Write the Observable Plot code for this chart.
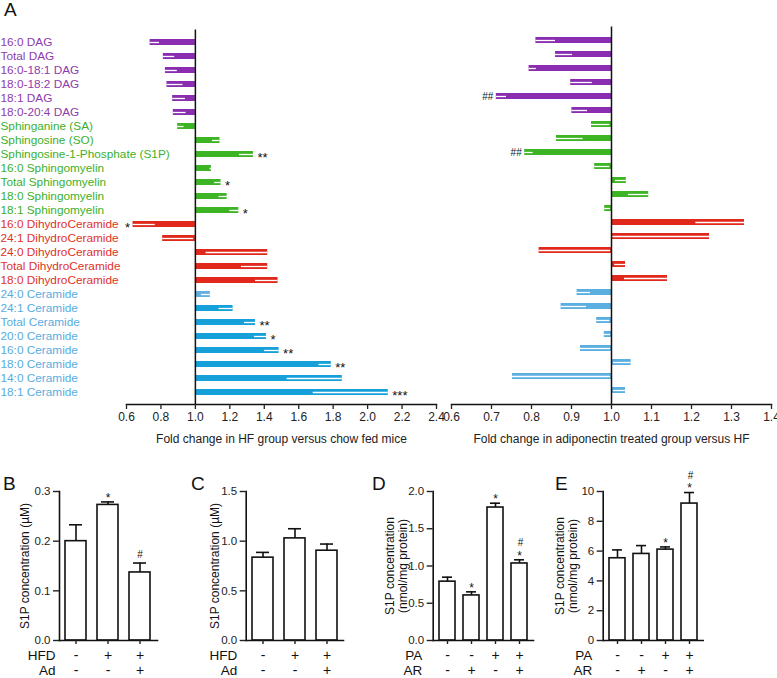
<!DOCTYPE html>
<html><head><meta charset="utf-8">
<script src="https://cdn.jsdelivr.net/npm/d3@7"></script>
<script src="https://cdn.jsdelivr.net/npm/@observablehq/plot@0.6"></script>
<style>
body{margin:0;background:#fff;}
#root{position:relative;width:777px;height:678px;overflow:hidden;font-family:"Liberation Sans",Arial,Helvetica,sans-serif;}
#root svg{position:absolute;overflow:visible;}
.letter{position:absolute;font-size:19px;line-height:19px;color:#111;}
</style></head><body><div id="root"></div>
<script>
// ---------- Panel A data ----------
const lipidNames = ["16:0 DAG","Total DAG","16:0-18:1 DAG","18:0-18:2 DAG","18:1 DAG","18:0-20:4 DAG",
  "Sphinganine (SA)","Sphingosine (SO)","Sphingosine-1-Phosphate (S1P)","16:0 Sphingomyelin","Total Sphingomyelin","18:0 Sphingomyelin","18:1 Sphingomyelin",
  "16:0 DihydroCeramide","24:1 DihydroCeramide","24:0 DihydroCeramide","Total DihydroCeramide","18:0 DihydroCeramide",
  "24:0 Ceramide","24:1 Ceramide","Total Ceramide","20:0 Ceramide","16:0 Ceramide","18:0 Ceramide","14:0 Ceramide","18:1 Ceramide"];
const lipidClass = ["DAG","DAG","DAG","DAG","DAG","DAG","Sph","Sph","Sph","Sph","Sph","Sph","Sph","DHC","DHC","DHC","DHC","DHC","Cer","Cer","Cer","Cer","Cer","Cer","Cer","Cer"];
const hfFold = [0.737,0.814,0.826,0.835,0.868,0.872,0.897,1.143,1.337,1.093,1.149,1.184,1.252,0.638,0.810,1.420,1.420,1.480,1.087,1.219,1.349,1.413,1.486,1.789,1.853,2.120];
const hfErr  = [0.055,0.066,0.069,0.093,0.074,0.074,0.037,0.044,0.081,0.008,0.037,0.047,0.052,0.129,0.180,0.358,0.153,0.131,0.052,0.082,0.064,0.070,0.085,0.072,0.320,0.436];
const hfSig  = ["","","","","","","","","**","","*","","*","*","","","","","","","**","*","**","**","","***"];
const adFold = [0.811,0.860,0.794,0.898,0.712,0.901,0.950,0.8625,0.783,0.958,1.037,1.093,0.983,1.3325,1.245,0.819,1.035,1.140,0.914,0.874,0.963,0.982,0.9225,1.049,0.7525,1.035];
const adErr  = [0.049,0.0425,0.018,0.054,0.0255,0.039,0.046,0.0665,0.021,0.038,0.027,0.0505,0.015,0.1215,0.242,0.179,0.027,0.1075,0.0335,0.0635,0.033,0.016,0.0755,0.044,0.2455,0.030];
const adSig  = ["","","","","##","","","","##","","","","","","","","","","","","","","","","",""];
const hfTicks = [0.6,0.8,1.0,1.2,1.4,1.6,1.8,2.0,2.2,2.4];
const adTicks = [0.6,0.7,0.8,0.9,1.0,1.1,1.2,1.3,1.4];
const hfTitle = "Fold change in HF group versus chow fed mice";
const adTitle = "Fold change in adiponectin treated group versus HF";

// ---------- Panels B-E data ----------
const bGroups = ["chow","HFD","HFD+Ad"];
const bS1P = [0.200,0.273,0.137];
const bSem = [0.033,0.006,0.019];
const bRow1 = ["-","+","+"], bRow2 = ["-","-","+"];
const bStar = ["","*",""], bHash = ["","","#"];
const bTicks = [0,0.1,0.2,0.3];

const cGroups = ["chow","HFD","HFD+Ad"];
const cS1P = [0.834,1.028,0.904];
const cSem = [0.053,0.097,0.067];
const cRow1 = ["-","+","+"], cRow2 = ["-","-","+"];
const cStar = ["","",""], cHash = ["","",""];
const cTicks = [0,0.5,1.0,1.5];

const dGroups = ["ctrl","AR","PA","PA+AR"];
const dS1P = [0.790,0.605,1.785,1.034];
const dSem = [0.060,0.048,0.058,0.049];
const dRow1 = ["-","-","+","+"], dRow2 = ["-","+","-","+"];
const dStar = ["","*","*","*"], dHash = ["","","","#"];
const dTicks = [0,0.5,1.0,1.5,2.0];

const eGroups = ["ctrl","AR","PA","PA+AR"];
const eS1P = [5.52,5.81,6.10,9.19];
const eSem = [0.56,0.56,0.18,0.74];
const eRow1 = ["-","-","+","+"], eRow2 = ["-","+","-","+"];
const eStar = ["","","*","*"], eHash = ["","","","#"];
const eTicks = [0,2,4,6,8,10];

// ---------- styles ----------
const FONT = '"Liberation Sans", Arial, Helvetica, sans-serif';
const labelColor = {DAG:"#8d3cae", Sph:"#3cb02b", DHC:"#e0321f", Cer:"#58ace0"};
const hfBarColor = {DAG:"#8a2db0", Sph:"#3cb424", DHC:"#e0291b", Cer:"#16a0d9"};
const adBarColor = {DAG:"#8a2db0", Sph:"#3cb424", DHC:"#e0291b", Cer:"#5aaee0"};
const lightCer = "#62afe0";

const root = document.getElementById("root");
function place(el, left, top){ el.style.left = left + "px"; el.style.top = top + "px"; root.appendChild(el); }
function letter(t, left, top){ const d = document.createElement("div"); d.className = "letter"; d.textContent = t; d.style.left = left+"px"; d.style.top = top+"px"; root.appendChild(d); }

const rows = lipidNames.map((name, i) => ({name, cls: lipidClass[i], hf: hfFold[i], hfE: hfErr[i], hfS: hfSig[i], ad: adFold[i], adE: adErr[i], adS: adSig[i]}));

function foldPanel({key, errKey, sigKey, domain, ticks, title, width, marginLeft, marginRight, marginTop, barColor, showLabels}) {
  const marks = [
    Plot.barX(rows, {y: "name", x1: 1, x2: key, fill: barColor}),
    Plot.ruleY(rows, {y: "name", x1: key, x2: d => d[key] + (d[key] < 1 ? d[errKey] : -d[errKey]), stroke: "white", strokeWidth: 1.3}),
    Plot.ruleX([1], {stroke: "#111", strokeWidth: 1.5}),
    Plot.frame({anchor: "bottom", stroke: "#111", strokeWidth: 1.5}),
    Plot.axisX({ticks, tickFormat: d3.format(".1f"), tickSize: 5, tickPadding: 3, strokeWidth: 1.3, fontSize: 12, fill: "#222",
      label: title, labelAnchor: "center", labelArrow: "none", labelOffset: 38}),
    Plot.text(rows.filter(d => d[sigKey] && d[key] > 1), {y: "name", x: key, text: sigKey, textAnchor: "start", dx: 4, dy: 3.5, fontSize: 13, fill: "#111"}),
    Plot.text(rows.filter(d => d[sigKey] && d[key] < 1), {y: "name", x: key, text: sigKey, textAnchor: "end", dx: -3, dy: sigKey === "adS" ? 0 : 3.5, fontSize: sigKey === "adS" ? 10 : 13, fill: "#111"})
  ];
  if (showLabels) marks.push(Plot.text(rows, {y: "name", text: "name", frameAnchor: "left", textAnchor: "start", dx: -marginLeft, fontSize: 11.8, fill: d => labelColor[d.cls]}));
  return Plot.plot({
    width, height: 450, marginLeft, marginRight, marginTop, marginBottom: 46,
    style: {fontFamily: FONT, fontSize: "12px", color: "#222", background: "transparent"},
    x: {domain, axis: null},
    y: {domain: lipidNames, paddingInner: 0.55, paddingOuter: 0.21, axis: null},
    color: {type: "identity"},
    marks
  });
}

place(foldPanel({key: "hf", errKey: "hfE", sigKey: "hfS", domain: [0.6, 2.4], ticks: hfTicks, title: hfTitle,
  width: 445, marginLeft: 126, marginRight: 9, marginTop: 29.4,
  barColor: d => d.name === "24:0 Ceramide" ? lightCer : hfBarColor[d.cls], showLabels: true}), 0, 0);
place(foldPanel({key: "ad", errKey: "adE", sigKey: "adS", domain: [0.6, 1.4], ticks: adTicks, title: adTitle,
  width: 337, marginLeft: 11, marginRight: 6, marginTop: 26.5,
  barColor: d => adBarColor[d.cls], showLabels: false}), 440, 0);

function barPanel({groups, vals, sems, row1, row2, stars, hashes, rowLabels, ticks, fmt, yLabel, labelDx, rowLabelDx,
  width, marginLeft, marginRight, paddingInner, paddingOuter, capInset}) {
  const data = groups.map((g, i) => ({g, v: vals[i], e: sems[i], r1: row1[i], r2: row2[i], s: stars[i], h: hashes[i]}));
  const yMax = ticks[ticks.length - 1];
  const marks = [
    Plot.barY(data, {x: "g", y: "v", fill: "white", stroke: "#111", strokeWidth: 1.6}),
    Plot.ruleX(data, {x: "g", y1: "v", y2: d => d.v + d.e, stroke: "#111", strokeWidth: 1.6}),
    Plot.tickY(data, {x: "g", y: d => d.v + d.e, insetLeft: capInset, insetRight: capInset, stroke: "#111", strokeWidth: 1.6}),
    Plot.frame({anchor: "left", stroke: "#111", strokeWidth: 1.6}),
    Plot.frame({anchor: "bottom", stroke: "#111", strokeWidth: 1.6}),
    Plot.axisY({ticks, tickFormat: d3.format(fmt), tickSize: 6, tickPadding: 3, strokeWidth: 1.4, fontSize: 11.5, fill: "#222", label: null}),
    Plot.axisX({tickSize: 4, tickFormat: () => "", strokeWidth: 1.4, label: null}),
    Plot.text(data.filter(d => d.s), {x: "g", y: d => d.v + d.e, text: "s", dy: -4, fontSize: 12, fill: "#111"}),
    Plot.text(data.filter(d => d.h && !d.s), {x: "g", y: d => d.v + d.e, text: "h", dy: -8, fontSize: 10, fill: "#111"}),
    Plot.text(data.filter(d => d.h && d.s), {x: "g", y: d => d.v + d.e, text: "h", dy: -17, dx: 1, fontSize: 10, fill: "#111"}),
    Plot.text(data, {x: "g", text: "r1", frameAnchor: "bottom", lineAnchor: "middle", dy: 15, fontSize: 14, fill: "#111"}),
    Plot.text(data, {x: "g", text: "r2", frameAnchor: "bottom", lineAnchor: "middle", dy: 30, fontSize: 14, fill: "#111"}),
    Plot.text([rowLabels[0]], {text: d => d, frameAnchor: "bottom-left", textAnchor: "end", lineAnchor: "middle", dx: rowLabelDx, dy: 15, fontSize: 13.5, fill: "#111"}),
    Plot.text([rowLabels[1]], {text: d => d, frameAnchor: "bottom-left", textAnchor: "end", lineAnchor: "middle", dx: rowLabelDx, dy: 30, fontSize: 13.5, fill: "#111"})
  ];
  yLabel.forEach((line, i) => marks.push(Plot.text([line], {text: d => d, frameAnchor: "left", textAnchor: "middle", lineAnchor: "middle", rotate: -90, dx: labelDx[i], fontSize: 12, fill: "#111"})));
  return Plot.plot({
    width, height: 208, marginLeft, marginRight, marginTop: 21, marginBottom: 38,
    style: {fontFamily: FONT, fontSize: "12px", color: "#222", background: "transparent"},
    x: {domain: groups, paddingInner, paddingOuter, axis: null},
    y: {domain: [0, yMax], axis: null},
    marks
  });
}

place(barPanel({groups: bGroups, vals: bS1P, sems: bSem, row1: bRow1, row2: bRow2, stars: bStar, hashes: bHash,
  rowLabels: ["HFD", "Ad"], ticks: bTicks, fmt: ".1f", yLabel: ["S1P concentration (\u00b5M)"], labelDx: [-34], rowLabelDx: -4,
  width: 165, marginLeft: 59, marginRight: 8, paddingInner: 0.34, paddingOuter: 0.17, capInset: 4}), 0, 470);
place(barPanel({groups: cGroups, vals: cS1P, sems: cSem, row1: cRow1, row2: cRow2, stars: cStar, hashes: cHash,
  rowLabels: ["HFD", "Ad"], ticks: cTicks, fmt: ".1f", yLabel: ["S1P concentration (\u00b5M)"], labelDx: [-31], rowLabelDx: -9,
  width: 165, marginLeft: 60.7, marginRight: 7, paddingInner: 0.33, paddingOuter: 0.14, capInset: 4}), 185, 470);
place(barPanel({groups: dGroups, vals: dS1P, sems: dSem, row1: dRow1, row2: dRow2, stars: dStar, hashes: dHash,
  rowLabels: ["PA", "AR"], ticks: dTicks, fmt: ".1f", yLabel: ["S1P concentration", "(nmol/mg protein)"], labelDx: [-43, -30], rowLabelDx: -11,
  width: 170, marginLeft: 62.7, marginRight: 7, paddingInner: 0.34, paddingOuter: 0.185, capInset: 3}), 370, 470);
place(barPanel({groups: eGroups, vals: eS1P, sems: eSem, row1: eRow1, row2: eRow2, stars: eStar, hashes: eHash,
  rowLabels: ["PA", "AR"], ticks: eTicks, fmt: "d", yLabel: ["S1P concentration", "(nmol/mg protein)"], labelDx: [-43, -30], rowLabelDx: -11,
  width: 165, marginLeft: 57.7, marginRight: 7.3, paddingInner: 0.33, paddingOuter: 0.17, capInset: 3}), 545, 470);

letter("A", 4, 0);
letter("B", 3, 474);
letter("C", 191, 474);
letter("D", 372, 474);
letter("E", 555, 474);
</script>
</body></html>
